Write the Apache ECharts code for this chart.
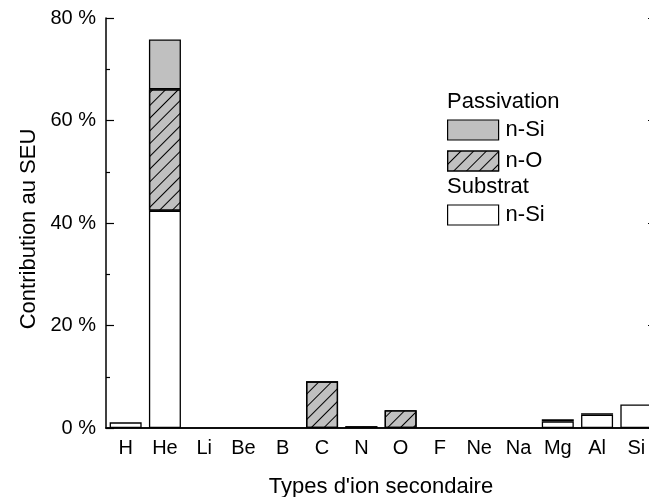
<!DOCTYPE html>
<html><head><meta charset="utf-8">
<script src="https://cdn.jsdelivr.net/npm/echarts@6/dist/echarts.min.js"></script>
<style>html,body{margin:0;padding:0;background:#fff}#c{width:649px;height:497px}</style>
</head><body><div id="c"></div>
<script>
const categories = ['H','He','Li','Be','B','C','N','O','F','Ne','Na','Mg','Al','Si'];
const substratNSi = [1.1, 42.4, 0, 0, 0, 0, 0, 0, 0, 0, 0, 1.3, 2.6, 4.6];
const passivationNO = [0, 23.7, 0, 0, 0, 9.1, 0.35, 3.45, 0, 0, 0, 0, 0, 0];
const passivationNSi = [0, 9.7, 0, 0, 0, 0, 0, 0, 0, 0, 0, 0.4, 0.3, 0];
const yTicks = [0, 20, 40, 60, 80];

const FONT = 'Liberation Sans, Arial, sans-serif';
const chart = echarts.init(document.getElementById('c'), null, {renderer: 'canvas'});
const toData = a => a.map(v => v === 0 ? '-' : v);
const border = {borderColor: '#000', borderWidth: 1.3};
const hatch = {symbol: 'rect', symbolSize: 1, dashArrayX: [1, 0], dashArrayY: [1, 8], rotation: -Math.PI / 4, color: '#000'};
const xBase = {type: 'category', data: categories, gridIndex: 0};
const strip = n => n.replace(/^(Passivation|Substrat) /, '');

chart.setOption({
  animation: false,
  textStyle: {fontFamily: FONT, color: '#000'},
  grid: {left: 106, top: 18, width: 550, height: 410, containLabel: false, outerBoundsMode: 'none'},
  xAxis: [
    Object.assign({}, xBase, {
      position: 'bottom',
      axisLine: {lineStyle: {color: '#000', width: 1.5}},
      axisTick: {inside: true, length: 5, lineStyle: {color: '#000', width: 1.2}},
      axisLabel: {fontSize: 20, color: '#000', margin: 10, fontFamily: FONT},
      name: "Types d'ion secondaire", nameLocation: 'middle', nameGap: 48,
      nameTextStyle: {fontSize: 22, color: '#000', fontFamily: FONT}
    }),
    Object.assign({}, xBase, {
      position: 'top',
      axisLine: {lineStyle: {color: '#000', width: 1.5}},
      axisTick: {inside: true, length: 5, lineStyle: {color: '#000', width: 1.2}},
      axisLabel: {show: false}
    }),
    Object.assign({}, xBase, {
      position: 'bottom', axisLine: {show: false},
      axisTick: {inside: true, length: 2, alignWithLabel: true, lineStyle: {color: '#000', width: 1.2}},
      axisLabel: {show: false}
    }),
    Object.assign({}, xBase, {
      position: 'top', axisLine: {show: false},
      axisTick: {inside: true, length: 2, alignWithLabel: true, lineStyle: {color: '#000', width: 1.2}},
      axisLabel: {show: false}
    })
  ],
  yAxis: [
    {
      type: 'value', min: yTicks[0], max: yTicks[yTicks.length - 1], interval: 20, position: 'left',
      axisLine: {show: true, lineStyle: {color: '#000', width: 1.5}},
      axisTick: {show: true, inside: true, length: 8, lineStyle: {color: '#000', width: 1.2}},
      minorTick: {show: true, splitNumber: 2, length: 4, lineStyle: {color: '#000', width: 1.2}},
      splitLine: {show: false},
      axisLabel: {formatter: '{value} %', fontSize: 20, color: '#000', margin: 10, fontFamily: FONT},
      name: 'Contribution au SEU', nameLocation: 'middle', nameGap: 66, nameRotate: 90,
      nameTextStyle: {fontSize: 22, color: '#000', fontFamily: FONT, padding: [0, 12, 0, 0]}
    },
    {
      type: 'value', min: yTicks[0], max: yTicks[yTicks.length - 1], interval: 20, position: 'right',
      axisLine: {show: true, lineStyle: {color: '#000', width: 1.5}},
      axisTick: {show: true, inside: true, length: 8, lineStyle: {color: '#000', width: 1.2}},
      minorTick: {show: true, splitNumber: 2, length: 4, lineStyle: {color: '#000', width: 1.2}},
      splitLine: {show: false},
      axisLabel: {show: false}
    }
  ],
  legend: [
    {
      orient: 'vertical', left: 447, top: 119, padding: 0, itemWidth: 51, itemHeight: 20, itemGap: 9,
      icon: 'rect', formatter: strip, itemStyle: {borderWidth: 1.2, borderColor: '#000'},
      textStyle: {fontSize: 22, color: '#000', fontFamily: FONT, padding: [0, 0, 0, 2]},
      data: ['Passivation n-Si', 'Passivation n-O']
    },
    {
      orient: 'vertical', left: 447, top: 204, padding: 0, itemWidth: 51, itemHeight: 20,
      icon: 'rect', formatter: strip, itemStyle: {borderWidth: 1.2, borderColor: '#000'},
      textStyle: {fontSize: 22, color: '#000', fontFamily: FONT, padding: [0, 0, 0, 2]},
      data: ['Substrat n-Si']
    }
  ],
  graphic: [
    {type: 'text', left: 447, top: 91, style: {text: 'Passivation', font: '22px ' + FONT, fill: '#000'}},
    {type: 'text', left: 447, top: 176, style: {text: 'Substrat', font: '22px ' + FONT, fill: '#000'}}
  ],
  series: [
    {name: 'Substrat n-Si', type: 'bar', stack: 's', barWidth: 32, data: toData(substratNSi),
     itemStyle: Object.assign({color: '#fff'}, border)},
    {name: 'Passivation n-O', type: 'bar', stack: 's', barWidth: 32, data: toData(passivationNO),
     itemStyle: Object.assign({color: '#c0c0c0', decal: hatch}, border)},
    {name: 'Passivation n-Si', type: 'bar', stack: 's', barWidth: 32, data: toData(passivationNSi),
     itemStyle: Object.assign({color: '#c0c0c0'}, border)}
  ]
});
</script></body></html>
